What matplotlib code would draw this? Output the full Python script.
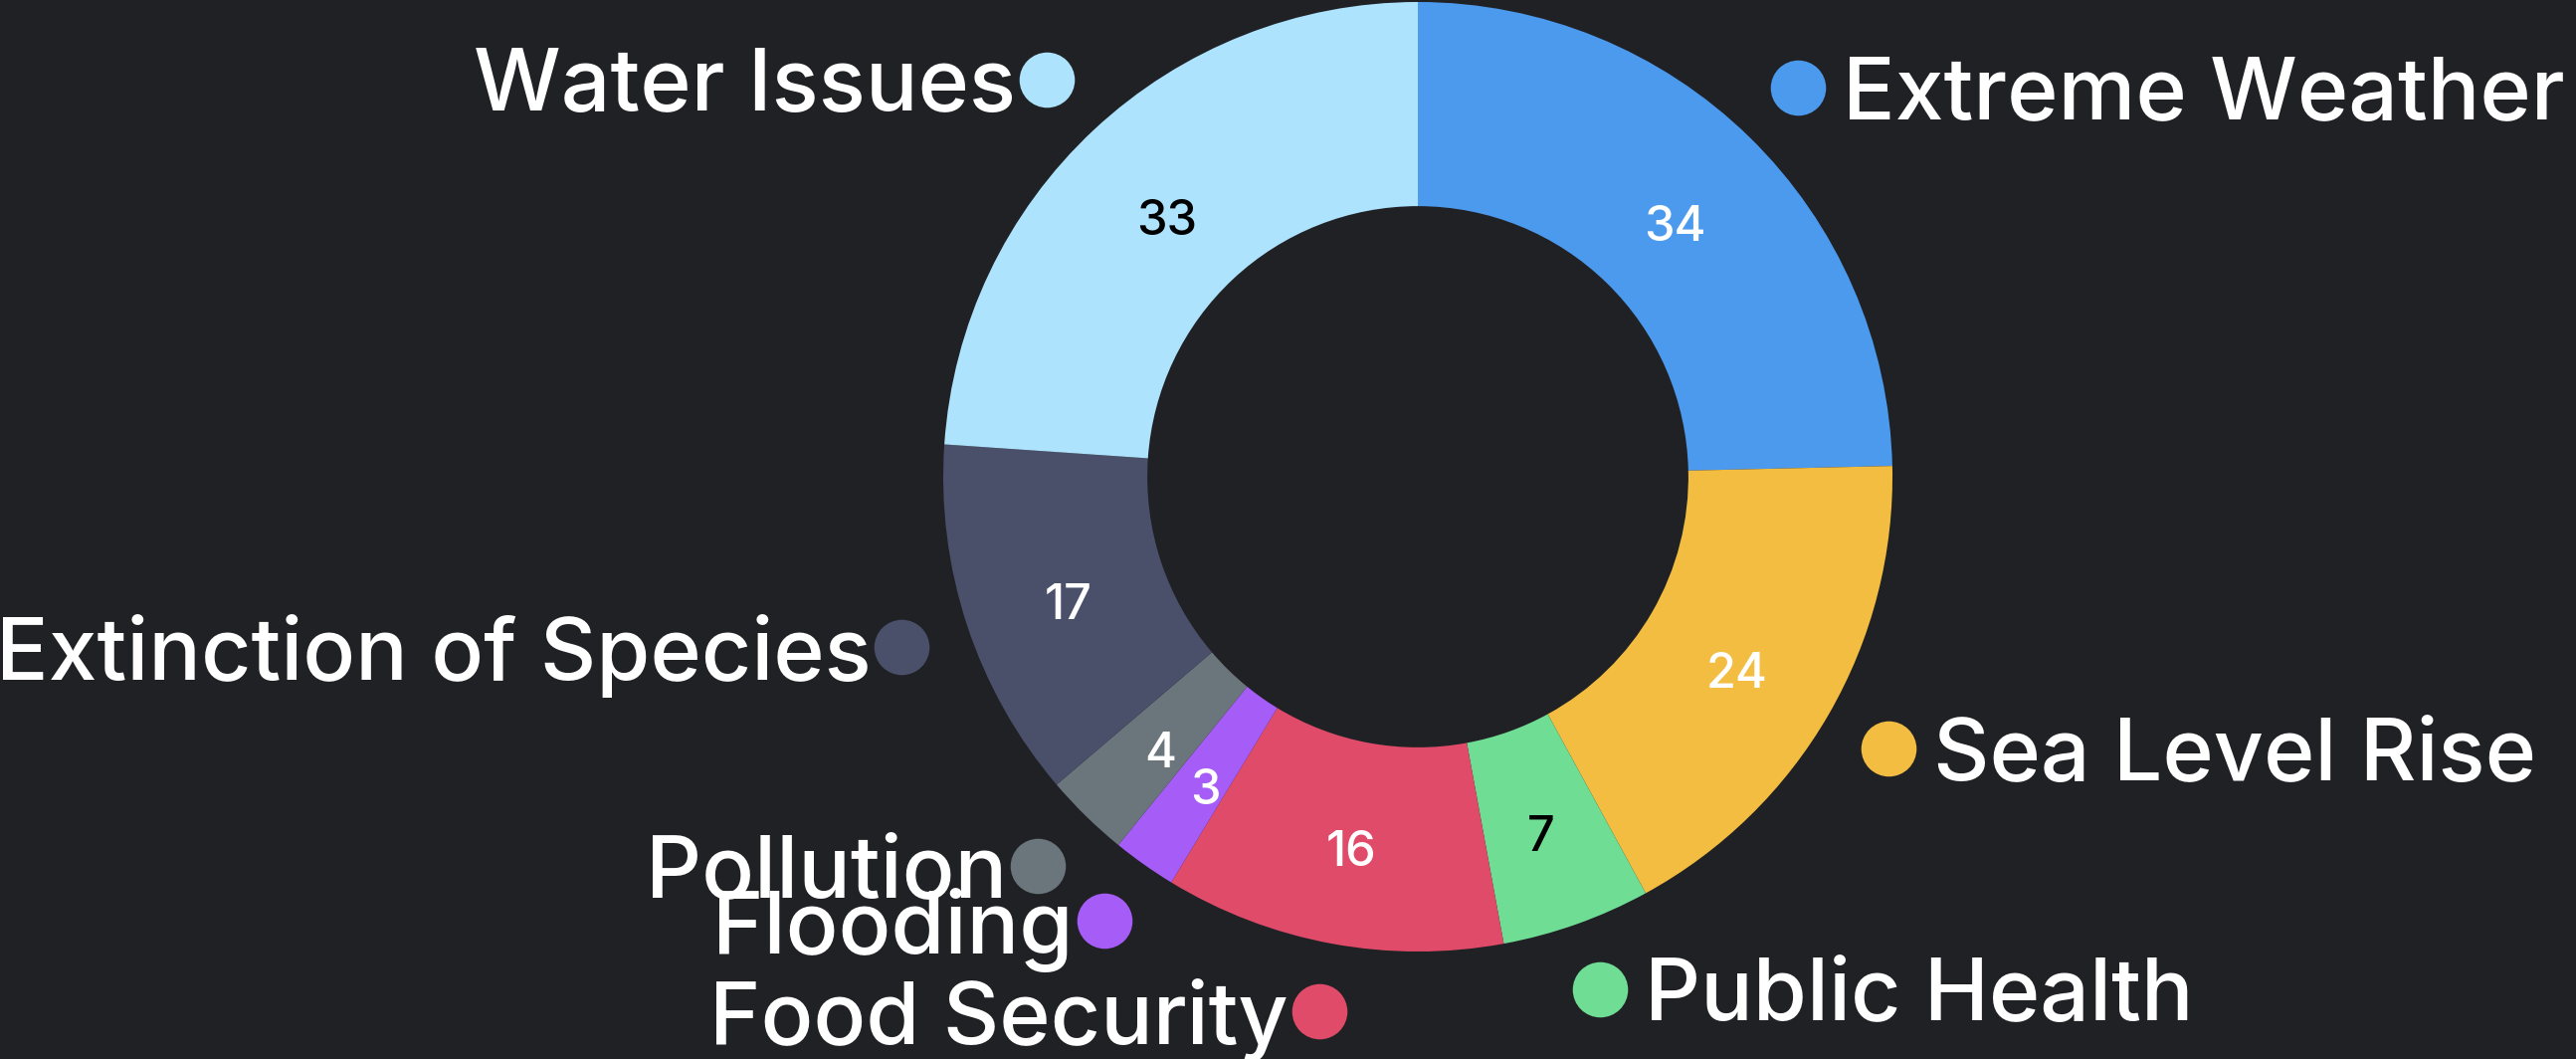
import matplotlib
matplotlib.use('Agg')
import matplotlib.pyplot as plt
import numpy as np

plt.rcParams['font.family'] = ['Inter', 'DejaVu Sans']

categories = ['Extreme Weather', 'Sea Level Rise', 'Public Health', 'Food Security',
              'Flooding', 'Pollution', 'Extinction of Species', 'Water Issues']
values = [34, 24, 7, 16, 3, 4, 17, 33]
colors = ['#4C9AEE', '#F2BD41', '#6FDE94', '#E04B69', '#A65CF6', '#6A757C', '#4A4F6A', '#AEE3FD']
value_colors = ['white', 'white', 'black', 'white', 'white', 'white', 'white', 'black']

BG = '#202125'
W, H = 2589, 1064
CX, CY = 1425, 479   # donut centre, pixels from top left
R = 477              # outer radius in pixels

fig = plt.figure(figsize=(W / 100, H / 100), dpi=100)
fig.patch.set_facecolor(BG)
ax = fig.add_axes([0, 0, 1, 1])
ax.set_facecolor(BG)

wedges, _ = ax.pie(values, colors=colors, startangle=90, counterclock=False,
                   radius=1.0, wedgeprops=dict(width=0.43, edgecolor='none'))

# pie() resets the limits, so set them afterwards
ax.set_xlim(-CX / R, (W - CX) / R)
ax.set_ylim(-(H - CY) / R, CY / R)
ax.set_aspect('equal', adjustable='datalim')
ax.axis('off')

total = float(sum(values))
cum = 0
for name, v, c, vc in zip(categories, values, colors, value_colors):
    mid = (cum + v / 2.0) / total * 2 * np.pi
    cum += v
    sx, sy = np.sin(mid), np.cos(mid)
    # value inside ring
    ax.text(0.775 * sx, 0.775 * sy - 0.03, str(v), color=vc, fontsize=35,
            ha='center', va='center', fontweight='medium')
    # dot and label outside
    dx, dy = 1.145 * sx, 1.145 * sy
    ax.plot(dx, dy, 'o', color=c, markersize=40, markeredgewidth=0)
    if sx >= 0:
        ax.text(dx + 0.095, dy, name, color='white', fontsize=63, ha='left',
                va='center_baseline', fontweight='medium')
    else:
        ax.text(dx - 0.065, dy, name, color='white', fontsize=63, ha='right',
                va='center_baseline', fontweight='medium')

fig.savefig('out.png', dpi=100, facecolor=BG)
